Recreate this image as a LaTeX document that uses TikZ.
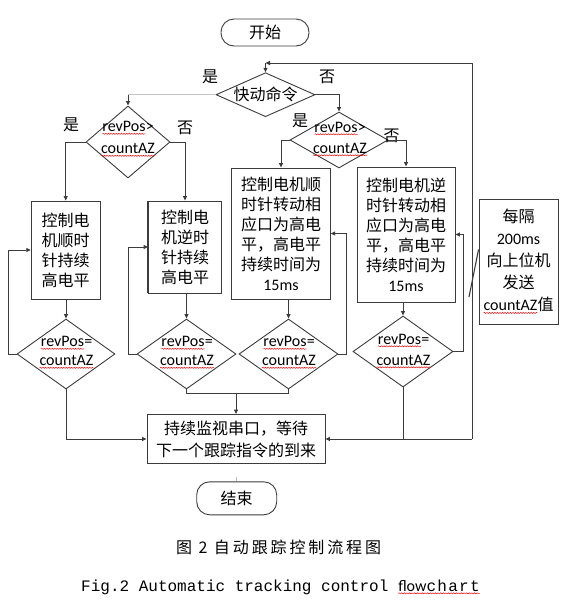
\documentclass[tikz,border=0pt]{standalone}
\usepackage{fontspec}
\setmainfont{Carlito}
\newfontfamily\cjk{Noto Sans CJK SC}
\newfontfamily\capfont[LetterSpace=18]{Noto Sans CJK SC}
\newfontfamily\monof{Liberation Mono}
\newfontfamily\monofw[LetterSpace=8]{Liberation Mono}
\usetikzlibrary{shapes.geometric,arrows.meta,decorations.pathmorphing}
\newcommand\redwave[1]{\tikz[baseline=(w.base)]{\node[rectangle,minimum width=0pt,minimum height=0pt,inner sep=0pt,outer sep=0pt,draw=none,fill=none,font={}] (w) {#1};\draw[red,line width=0.45pt,decorate,decoration={snake,amplitude=0.6pt,segment length=2.6pt}] ([yshift=-2.2pt]w.base west) -- ([yshift=-2.2pt]w.base east);}}
\definecolor{linec}{RGB}{60,60,60}
\tikzset{
  ln/.style={draw=linec,line width=0.9pt},
  arr/.style={ln,-{Triangle[length=4.5pt,width=4pt]}},
  boxn/.style={ln,rectangle,inner sep=0pt,align=center,font=\cjk\fontsize{16}{20}\selectfont},
  term/.style={ln,rectangle,rounded corners=13pt,inner sep=0pt,font=\cjk\fontsize{16}{20}\selectfont},
  dia/.style={ln,diamond,inner sep=0pt},
  dtxt/.style={align=center,inner sep=0pt,font=\fontsize{16}{20}\selectfont},
  lbl/.style={inner sep=0pt,font=\cjk\fontsize{16}{20}\selectfont},
}
\begin{document}
\begin{tikzpicture}[x=1pt,y=-1pt]
\fill[white] (0,0) rectangle (580,603);
% terminals
\node[term,minimum width=88pt,minimum height=27pt] (st) at (265,32.5) {开始};
\node[term,minimum width=80pt,minimum height=33pt] (en) at (236.7,498.3) {结束};
% decisions
\node[dia,minimum width=99pt,minimum height=44pt] (kd) at (265.5,94.7) {};
\node[lbl] (kdt) at (kd) {快动命令};
\node[dia,minimum width=84pt,minimum height=72pt] (dL) at (128,142) {};
\node[dtxt,font=\fontsize{16}{22}\selectfont] (dLt) at (128,139) {\redwave{revPos}>\\\redwave{countAZ}};
\node[dia,minimum width=98pt,minimum height=56pt] (dR) at (339,140) {};
\node[dtxt,font=\fontsize{16}{21}\selectfont] (dRt) at (340,139) {\redwave{revPos}>\\\redwave{countAZ}};
% process boxes
\node[boxn,minimum width=69pt,minimum height=98pt] (b1) at (65.7,250) {控制电\\机顺时\\针持续\\高电平};
\node[boxn,minimum width=73pt,minimum height=92pt] (b2) at (185,247) {控制电\\机逆时\\针持续\\高电平};
\draw[draw=linec,line width=1.8pt] (b2.north west) -- (b2.south west);
\node[boxn,minimum width=98.5pt,minimum height=131pt] (b3) at (281,233.5) {控制电机顺\\时针转动相\\应口为高电\\平，高电平\\持续时间为\\{\rmfamily 15ms}};
\node[boxn,minimum width=98pt,minimum height=135pt] (b4) at (406,234.5) {控制电机逆\\时针转动相\\应口为高电\\平，高电平\\持续时间为\\{\rmfamily 15ms}};
\node[boxn,minimum width=79pt,minimum height=125pt,font=\cjk\fontsize{16}{22}\selectfont] (b5) at (518.5,261.5) {每隔\\{\rmfamily 200ms}\\向上位机\\发送\\{\rmfamily\redwave{countAZ}}值};
% lower decisions
\node[dia,minimum width=98pt,minimum height=70pt] (d1) at (66,354) {};
\node[dtxt,font=\fontsize{16}{19}\selectfont] (d1t) at (66.5,352.5) {\redwave{revPos}=\\\redwave{countAZ}};
\node[dia,minimum width=99pt,minimum height=70pt] (d2) at (186.5,354) {};
\node[dtxt,font=\fontsize{16}{19}\selectfont] (d2t) at (187,352.5) {\redwave{revPos}=\\\redwave{countAZ}};
\node[dia,minimum width=99pt,minimum height=70pt] (d3) at (288.5,354) {};
\node[dtxt,font=\fontsize{16}{19}\selectfont] (d3t) at (289,352.5) {\redwave{revPos}=\\\redwave{countAZ}};
\node[dia,minimum width=100pt,minimum height=71pt] (d4) at (403,351.5) {};
\node[dtxt,font=\fontsize{16}{21}\selectfont] (d4t) at (403.5,351) {\redwave{revPos}=\\\redwave{countAZ}};
% final process
\node[boxn,minimum width=178pt,minimum height=49pt,font=\cjk\fontsize{16}{22}\selectfont] (pr) at (236,439) {持续监视串口，等待\\下一个跟踪指令的到来};
% yes/no labels
\node[lbl] (y0) at (210,77) {是};
\node[lbl] (n0) at (327,77) {否};
\node[lbl] (y1) at (71,125) {是};
\node[lbl] (n1) at (185,128) {否};
\node[lbl] (y2) at (300,121) {是};
\node[lbl] (n2) at (391.5,136) {否};
% connectors top
\draw[draw=gray!45,line width=0.9pt] (kd.west) -- (kd.west -| dL.north);
\draw[arr] (kd.west -| dL.north) -- (dL.north);
\draw[arr] (kd.east) -| (dR.north);
\draw[arr] (dL.west) -| (b1.north);
\draw[arr] (dL.east) -| (b2.north);
\draw[arr] (dR.west) -| (b3.north);
\draw[arr] (dR.east) -| (b4.north);
% boxes to lower decisions
\draw[arr] (b1.south -| d1.north) -- (d1.north);
\draw[arr] (b2.south -| d2.north) -- (d2.north);
\draw[arr] (b3.south -| d3.north) -- (d3.north);
\draw[arr] (b4.south -| d4.north) -- (d4.north);
% feedback loops
\draw[arr] (d1.west) -- ++(-8.5,0) |- (b1.west);
\draw[arr] (d2.west) -- ++(-8.5,0) |- (b2.west);
\draw[arr] (d3.east) -- ++(8,0) |- (b3.east);
\draw[arr] (d4.east) -- ++(10,0) |- (b4.east);
% to final process
\draw[arr] (d1.south) |- (pr.west);
\coordinate (hy) at (0,393);
\coordinate (mj) at (pr.north |- hy);
\draw[ln] (d2.south) |- (mj);
\draw[ln] (d3.south) |- (mj);
\draw[arr] (mj) -- (pr.north);
\coordinate (lx) at (472,0);
\coordinate (lb) at (lx |- pr.east);
\coordinate (lt) at (472,63);
\coordinate (tp) at (kd.north |- lt);
\draw[ln] (d4.south) -- (d4.south |- pr.east);
\draw[arr] (lb) -- (pr.east);
\draw[arr] (lb) -- (lt) -- (tp);
\draw[arr] (tp) -- (kd.north);
% slash near the timer box
\coordinate (sl) at (469,297);
\draw[ln,line width=1.1pt] (sl) -- ([yshift=12pt]b5.west);
% small tick above end
\draw[draw=gray!50,line width=0.9pt] ([yshift=4pt]en.north) -- (en.north);
% captions
\node[anchor=west,inner sep=0pt,font=\capfont\fontsize{16}{20}\selectfont] (cap1) at (176,547) {图 2 自动跟踪控制流程图};
\node[anchor=west,inner sep=0pt,font=\monof\fontsize{16}{20}\selectfont] (cap2) at (81,587) {Fig.2 Automatic tracking control \redwave{{\rmfamily flow}{\monofw chart}}};
\end{tikzpicture}
\end{document}
